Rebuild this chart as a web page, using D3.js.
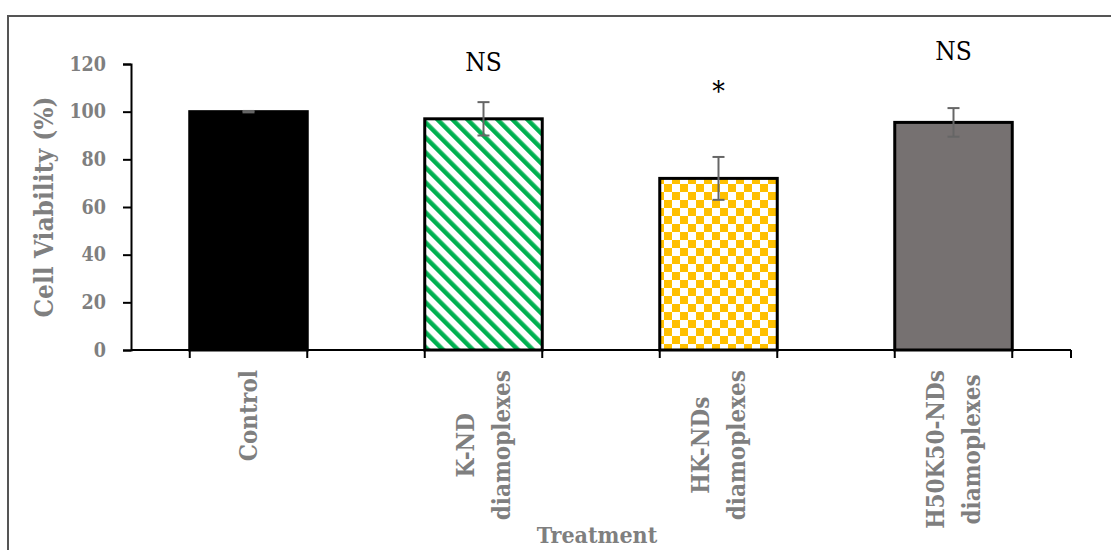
<!DOCTYPE html>
<html>
<head>
<meta charset="utf-8">
<script src="https://cdn.jsdelivr.net/npm/d3@7"></script>
<style>
  body { margin: 0; background: #fff; }
  svg { display: block; font-family: "DejaVu Serif Condensed", "DejaVu Serif", serif; font-stretch: condensed; }
</style>
</head>
<body>
<svg id="chart" width="1111" height="550"></svg>
<script>
// data
const categories = ['Control', 'K-ND diamoplexes', 'HK-NDs diamoplexes', 'H50K50-NDs diamoplexes'];
const labelLines = [['Control'], ['K-ND', 'diamoplexes'], ['HK-NDs', 'diamoplexes'], ['H50K50-NDs', 'diamoplexes']];
const viability = [100, 97, 72, 95.5];
const errors = [0.3, 7, 9, 6];
const significance = ['', 'NS', '*', 'NS'];
const sigLevels = [null, 117, 104.5, 121.5];
const yTicks = [0, 20, 40, 60, 80, 100, 120];

const fills = ['#000000', 'url(#stripes)', 'url(#checks)', '#767171'];
const gray = '#7f7f7f';

const svg = d3.select('#chart');

// patterns
const defs = svg.append('defs');
const stripes = defs.append('pattern')
  .attr('id', 'stripes')
  .attr('patternUnits', 'userSpaceOnUse')
  .attr('width', 10.6)
  .attr('height', 10.6)
  .attr('patternTransform', 'rotate(-45)');
stripes.append('rect').attr('width', 10.6).attr('height', 10.6).attr('fill', '#fff');
stripes.append('rect').attr('width', 4.5).attr('height', 10.6).attr('fill', '#00b050');

const checks = defs.append('pattern')
  .attr('id', 'checks')
  .attr('patternUnits', 'userSpaceOnUse')
  .attr('width', 16)
  .attr('height', 16);
checks.append('rect').attr('width', 16).attr('height', 16).attr('fill', '#fff');
checks.append('rect').attr('width', 8).attr('height', 8).attr('fill', '#ffc000');
checks.append('rect').attr('x', 8).attr('y', 8).attr('width', 8).attr('height', 8).attr('fill', '#ffc000');

// frame
svg.append('path')
  .attr('d', 'M8,550V16H1111')
  .attr('fill', 'none')
  .attr('stroke', '#555')
  .attr('stroke-width', 2);

const x = d3.scaleBand()
  .domain(categories)
  .range([131, 1071])
  .paddingInner(0.5)
  .paddingOuter(0.25);

const y = d3.scaleLinear()
  .domain([0, 120])
  .range([350, 64]);

// bars
svg.selectAll('.bar')
  .data(categories)
  .enter().append('rect')
  .attr('class', 'bar')
  .attr('x', d => x(d))
  .attr('width', x.bandwidth())
  .attr('y', (d, i) => y(viability[i]))
  .attr('height', (d, i) => y(0) - y(viability[i]))
  .attr('fill', (d, i) => fills[i])
  .attr('stroke', '#000')
  .attr('stroke-width', 3);

// error bars
const err = svg.selectAll('.err')
  .data(categories)
  .enter().append('g')
  .attr('class', 'err')
  .attr('stroke', '#666')
  .attr('stroke-width', 2);
const cx = d => x(d) + x.bandwidth() / 2;
err.append('line')
  .attr('x1', cx).attr('x2', cx)
  .attr('y1', (d, i) => y(viability[i] + errors[i]))
  .attr('y2', (d, i) => y(viability[i] - errors[i]));
err.append('line')
  .attr('x1', d => cx(d) - 6).attr('x2', d => cx(d) + 6)
  .attr('y1', (d, i) => y(viability[i] + errors[i]))
  .attr('y2', (d, i) => y(viability[i] + errors[i]));
err.append('line')
  .attr('x1', d => cx(d) - 6).attr('x2', d => cx(d) + 6)
  .attr('y1', (d, i) => y(viability[i] - errors[i]))
  .attr('y2', (d, i) => y(viability[i] - errors[i]));

// y axis
const yAxis = svg.append('g')
  .attr('transform', 'translate(131,0)')
  .call(d3.axisLeft(y).tickValues(yTicks).tickSize(8).tickPadding(17));
yAxis.select('.domain').attr('stroke', '#000').attr('stroke-width', 2);
yAxis.selectAll('.tick line').attr('stroke', '#000').attr('stroke-width', 2);
yAxis.selectAll('.tick text')
  .attr('fill', gray)
  .attr('font-family', '"DejaVu Serif Condensed", "DejaVu Serif", serif')
  .attr('font-weight', 'bold')
  .attr('font-size', 19.5);

// x axis line with ticks at bar edges
const xAxis = svg.append('g');
xAxis.append('line')
  .attr('x1', 131).attr('x2', 1071)
  .attr('y1', y(0)).attr('y2', y(0))
  .attr('stroke', '#000').attr('stroke-width', 2);
const edges = [];
categories.forEach(c => { edges.push(x(c), x(c) + x.bandwidth()); });
edges.push(1071);
xAxis.selectAll('.xt')
  .data(edges)
  .enter().append('line')
  .attr('x1', d => d).attr('x2', d => d)
  .attr('y1', y(0)).attr('y2', y(0) + 8)
  .attr('stroke', '#000').attr('stroke-width', 2);

// category labels, rotated
const labels = svg.selectAll('.cat')
  .data(categories)
  .enter().append('g')
  .attr('class', 'cat')
  .attr('transform', d => `translate(${cx(d)},370) rotate(-90)`);
labels.each(function (d, i) {
  const g = d3.select(this);
  const lines = labelLines[i];
  const texts = lines.map((t, k) => g.append('text')
    .attr('text-anchor', 'middle')
    .attr('y', (k - (lines.length - 1) / 2) * 36)
    .attr('dy', '0.35em')
    .attr('fill', gray)
    .attr('font-weight', 'bold')
    .attr('font-size', 24)
    .text(t));
  const maxLen = d3.max(texts, t => t.node().getComputedTextLength());
  texts.forEach(t => t.attr('x', -maxLen / 2));
});

// significance marks
svg.selectAll('.sig')
  .data(categories.filter((d, i) => significance[i]))
  .enter().append('text')
  .attr('class', 'sig')
  .attr('x', cx)
  .attr('y', d => y(sigLevels[categories.indexOf(d)]))
  .attr('text-anchor', 'middle')
  .attr('font-size', d => (significance[categories.indexOf(d)] === '*' ? 28 : 26))
  .attr('fill', '#000')
  .text(d => significance[categories.indexOf(d)]);

// axis titles
svg.append('text')
  .attr('transform', `translate(53,${(y(0) + y(120)) / 2}) rotate(-90)`)
  .attr('text-anchor', 'middle')
  .attr('fill', gray)
  .attr('font-weight', 'bold')
  .attr('font-size', 26)
  .text('Cell Viability (%)');

svg.append('text')
  .attr('x', 597)
  .attr('y', 543)
  .attr('text-anchor', 'middle')
  .attr('fill', gray)
  .attr('font-weight', 'bold')
  .attr('font-size', 23)
  .text('Treatment');
</script>
</body>
</html>
